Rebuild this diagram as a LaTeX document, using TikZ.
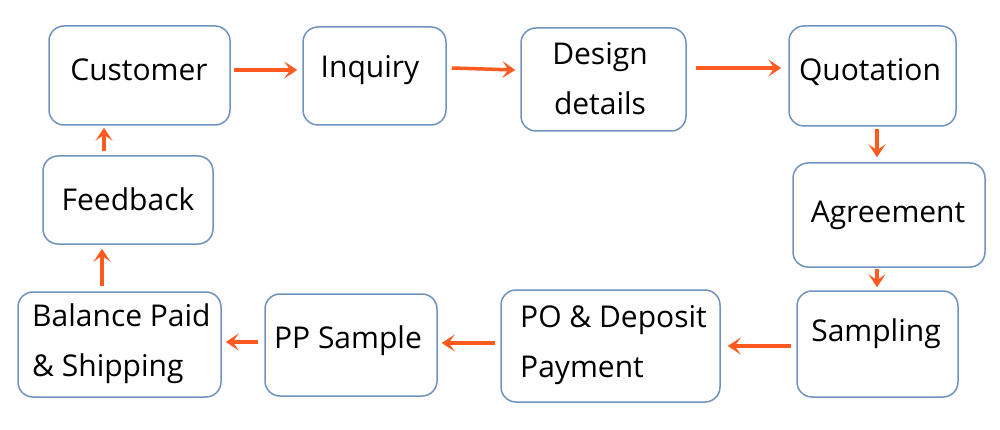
\documentclass[tikz,border=0pt]{standalone}
\usepackage{fontspec}
\setmainfont{Open Sans}
\usetikzlibrary{arrows.meta}
\definecolor{boxline}{HTML}{6F93BE}
\definecolor{arrcol}{HTML}{FF5A1F}
\begin{document}
\begin{tikzpicture}[x=1pt,y=-1pt,
  box/.style={draw=boxline,line width=1.5pt,rounded corners=15pt,inner sep=0pt,fill=white},
  lbl/.style={inner sep=0pt,font=\fontsize{30}{50}\selectfont},
  arr/.style={draw=arrcol,line width=3.5pt,-{Stealth[length=13pt,width=17pt,inset=6pt]}}]
\useasboundingbox (0,0) rectangle (1000,430);
% boxes
\node[box,minimum width=181,minimum height=99] (cust) at (139.5,75.5) {};
\node[box,minimum width=143,minimum height=98] (inq) at (374.5,76) {};
\node[box,minimum width=165,minimum height=103] (des) at (603.5,79.5) {};
\node[box,minimum width=167,minimum height=100] (quo) at (872.5,76) {};
\node[box,minimum width=192,minimum height=104] (agr) at (889,215) {};
\node[box,minimum width=161,minimum height=106] (samp) at (877.5,344) {};
\node[box,minimum width=219,minimum height=112] (po) at (610.5,346) {};
\node[box,minimum width=172,minimum height=102] (pp) at (351,345) {};
\node[box,minimum width=203,minimum height=105] (bal) at (119.5,344.5) {};
\node[box,minimum width=170,minimum height=88] (fb) at (128,200) {};
% labels
\node[lbl] (tcust) at (139,70) {Customer};
\node[lbl] (tinq) at (370,70) {Inquiry};
\node[lbl,align=center] (tdes) at (600,78.5) {Design\\details};
\node[lbl] (tquo) at (870,72) {Quotation};
\node[lbl] (tagr) at (888,215) {Agreement};
\node[lbl] (tsamp) at (876,334) {Sampling};
\node[lbl,align=left,anchor=west] (tpo) at (520,345) {PO \& Deposit\\Payment};
\node[lbl] (tpp) at (348,341) {PP Sample};
\node[lbl,align=left,anchor=west] (tbal) at (32,344) {Balance Paid\\\& Shipping};
\node[lbl] (tfb) at (128,199) {Feedback};
% arrows
\draw[arr] ([xshift=3pt,yshift=5.5pt]cust.east) -- ([xshift=-5pt,yshift=6pt]inq.west);
\draw[arr] ([xshift=5pt,yshift=8pt]inq.east) -- ([xshift=-5pt,yshift=9.5pt]des.west);
\draw[arr] ([xshift=9pt,yshift=11.5pt]des.east) -- ([xshift=-7pt,yshift=8pt]quo.west);
\draw[arr] ([xshift=4.5pt,yshift=-2pt]quo.south) -- ([xshift=-12pt,yshift=5pt]agr.north);
\draw[arr] ([xshift=-12pt,yshift=-1pt]agr.south) -- ([xshift=-0.5pt,yshift=3pt]samp.north);
\draw[arr] ([xshift=-5pt,yshift=-2pt]samp.west) -- ([xshift=7pt]po.east);
\draw[arr] ([xshift=-5pt,yshift=3pt]po.west) -- ([xshift=4pt,yshift=2pt]pp.east);
\draw[arr] ([xshift=-6pt,yshift=3pt]pp.west) -- ([xshift=4pt,yshift=2.5pt]bal.east);
\draw[arr] ([xshift=-17.5pt,yshift=5pt]bal.north) -- ([xshift=-26pt,yshift=-4pt]fb.south);
\draw[arr] ([xshift=-24pt,yshift=4pt]fb.north) -- ([xshift=-35.5pt,yshift=-2pt]cust.south);
\end{tikzpicture}
\end{document}
